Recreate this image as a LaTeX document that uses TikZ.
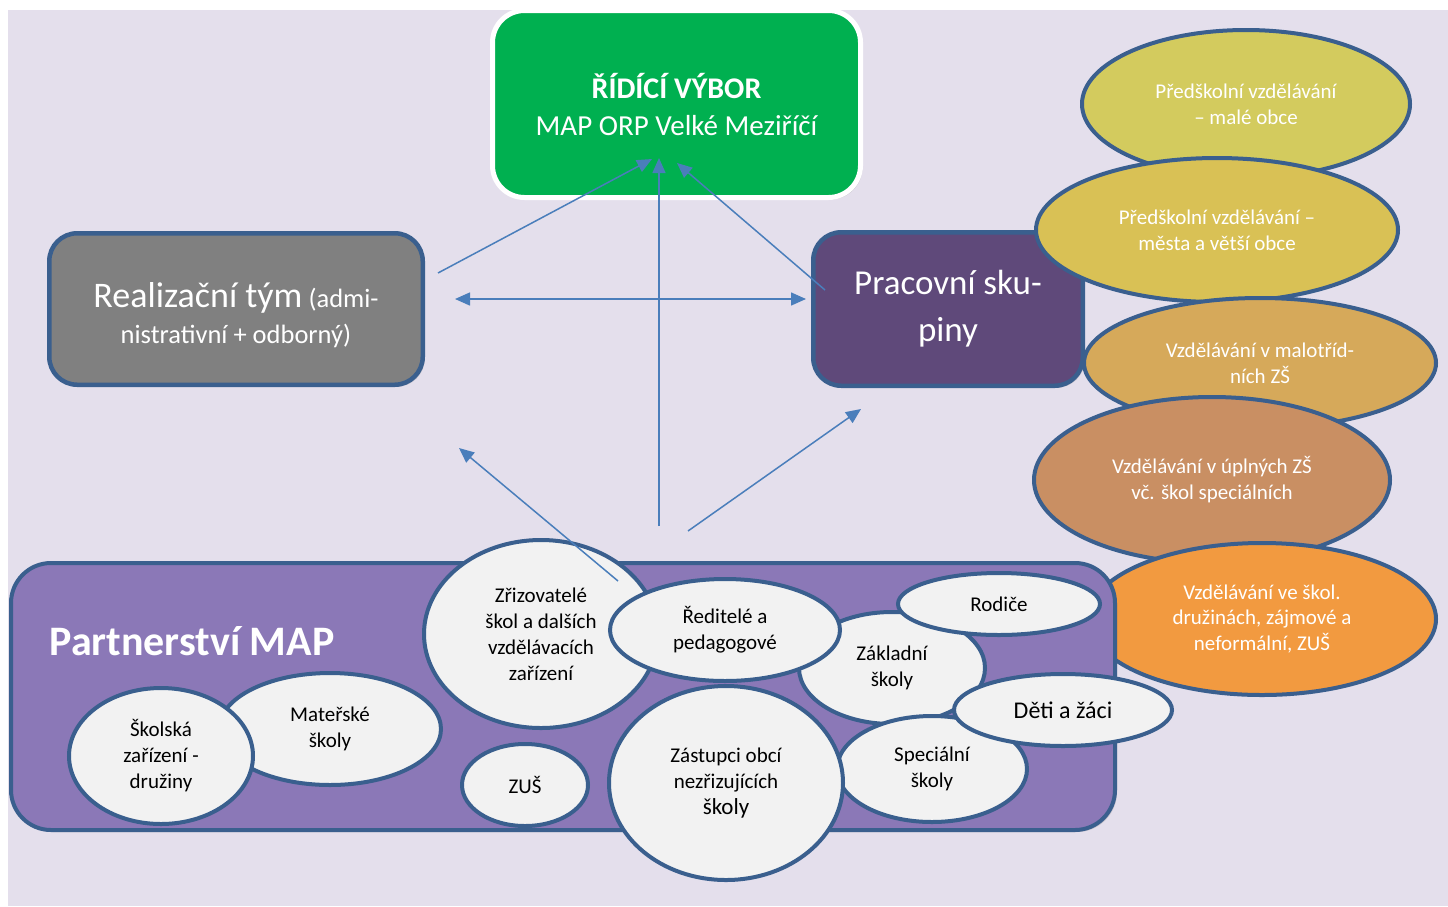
\documentclass[tikz,border=0pt]{standalone}
\usepackage{fontspec}
\setmainfont{Carlito}
\usepackage{tikz}
\usetikzlibrary{arrows.meta,shapes.geometric,shadows}

\definecolor{bgcol}{HTML}{E4DFEC}
\definecolor{rvgreen}{HTML}{00B050}
\definecolor{rtgray}{HTML}{808080}
\definecolor{pspurple}{HTML}{5F497A}
\definecolor{pmviolet}{HTML}{8B78B7}
\definecolor{edgeblue}{HTML}{3A5F8E}
\definecolor{arrowblue}{HTML}{4A7EBB}
\definecolor{ovwhite}{HTML}{F2F2F2}
\definecolor{ovA}{HTML}{D3CB5E}
\definecolor{ovB}{HTML}{D9C155}
\definecolor{ovC}{HTML}{D6A95A}
\definecolor{ovD}{HTML}{C98F63}
\definecolor{ovE}{HTML}{F29A40}

\begin{document}
\begin{tikzpicture}[x=1pt, y=1pt,
  box/.style={draw=edgeblue, line width=4.5pt, rounded corners=28pt, inner sep=0pt,
    align=center, text=white, drop shadow={opacity=0.3, shadow xshift=2pt, shadow yshift=-2pt}},
  oval/.style={ellipse, draw=edgeblue, line width=4pt, inner sep=0pt, align=center,
    font=\fontsize{21}{26}\selectfont},
  wov/.style={oval, fill=ovwhite, text=black},
  cov/.style={oval, text=white},
  link/.style={draw=arrowblue, line width=1.5pt, -{Triangle[length=15pt,width=13pt]}},
  link2/.style={link, {Triangle[length=15pt,width=13pt]}-{Triangle[length=15pt,width=13pt]}}]

  \useasboundingbox (0,0) rectangle (1448,-906);
  \fill[white] (0,0) rectangle (1448,-906);
  \fill[bgcol] (8,-10) rectangle (1448,-906);

  % upper boxes
  \node (RV) [box, draw=white, line width=5pt, rounded corners=32pt, fill=rvgreen,
    minimum width=368pt, minimum height=187pt, font=\fontsize{29}{37}\selectfont]
    at (676.5,-104)
    {{\bfseries\fontsize{30}{37}\selectfont ŘÍDÍCÍ VÝBOR}\\MAP ORP Velké Meziříčí};
  \node (RT) [box, fill=rtgray, minimum width=373.5pt, minimum height=151.5pt] at (236,-309) {};
  \node (RTt) [text=white, align=center, font=\fontsize{26.5}{36}\selectfont] at (236,-315)
    {{\fontsize{36}{40}\selectfont Realizační tým} (admi-\\nistrativní + odborný)};
  \node (PS) [box, fill=pspurple, minimum width=269.5pt, minimum height=153.5pt,
    font=\fontsize{35}{47}\selectfont] at (948,-309) {Pracovní sku-\\piny};

  % pracovni skupiny
  \node (PA) [cov, fill=ovA, minimum width=328pt, minimum height=148pt] at (1246,-104)
    {Předškolní vzdělávání\\– malé obce};
  \node (PB) [cov, fill=ovB, minimum width=362pt, minimum height=144pt] at (1217,-230)
    {Předškolní vzdělávání –\\města a větší obce};
  \node (PC) [cov, fill=ovC, minimum width=352pt, minimum height=130pt] at (1260,-363)
    {Vzdělávání v malotříd-\\ních ZŠ};
  \node (PD) [cov, fill=ovD, minimum width=356pt, minimum height=166pt] at (1212,-480)
    {Vzdělávání v úplných ZŠ\\vč. škol speciálních};
  \node (PE) [cov, fill=ovE, minimum width=348pt, minimum height=152pt,
    font=\fontsize{21}{25.5}\selectfont] at (1262,-619)
    {Vzdělávání ve škol.\\družinách, zájmové a\\neformální, ZUŠ};

  % partnerstvi
  \node (PM) [box, fill=pmviolet, line width=4pt, rounded corners=40pt,
    minimum width=1104pt, minimum height=267pt] at (563,-696.5) {};
  \node (PMt) [anchor=base west, text=white, font=\fontsize{42}{48}\selectfont\bfseries]
    at (46,-655) {Partnerství MAP};

  \node (MS) [wov, minimum width=222pt, minimum height=112pt] at (330,-729) {Mateřské\\školy};
  \node (SZ) [wov, minimum width=184pt, minimum height=136pt] at (161,-756)
    {Školská\\zařízení -\\družiny};
  \node (ZR) [wov, minimum width=234pt, minimum height=188pt] at (541,-634)
    {Zřizovatelé\\škol a dalších\\vzdělávacích\\zařízení};
  \node (ZUS) [wov, minimum width=126pt, minimum height=82pt] at (525,-785) {ZUŠ};
  \node (ZS) [wov, minimum width=186pt, minimum height=112pt] at (892,-668) {Základní\\školy};
  \node (SS) [wov, minimum width=190pt, minimum height=106pt] at (932,-769) {Speciální\\školy};
  \node (RP) [wov, minimum width=230pt, minimum height=102pt] at (725,-630)
    {Ředitelé a\\pedagogové};
  \node (ZO) [wov, minimum width=234pt, minimum height=194pt] at (726,-783)
    {Zástupci obcí\\nezřizujících\\{\fontsize{23}{26}\selectfont školy}};
  \node (RO) [wov, minimum width=202pt, minimum height=62pt] at (999,-604) {Rodiče};
  \node (DZ) [wov, minimum width=218pt, minimum height=72pt,
    font=\fontsize{24}{28}\selectfont] at (1063,-710) {Děti a žáci};

  % arrows
  \coordinate (a1) at (438,-273);
  \coordinate (a2) at (652,-159);
  \coordinate (b1) at (659,-526);
  \coordinate (b2) at (659,-158);
  \coordinate (c1) at (825,-290);
  \coordinate (c2) at (677,-163);
  \coordinate (h1) at (455,-299);
  \coordinate (h2) at (806,-299);
  \coordinate (d1) at (618,-581);
  \coordinate (d2) at (459,-448);
  \coordinate (e1) at (688,-531);
  \coordinate (e2) at (861,-409);
  \path (a1) edge[link] (a2)
        (b1) edge[link] (b2)
        (c1) edge[link] (c2)
        (d1) edge[link] (d2)
        (e1) edge[link] (e2)
        (h1) edge[link2] (h2);
\end{tikzpicture}
\end{document}
